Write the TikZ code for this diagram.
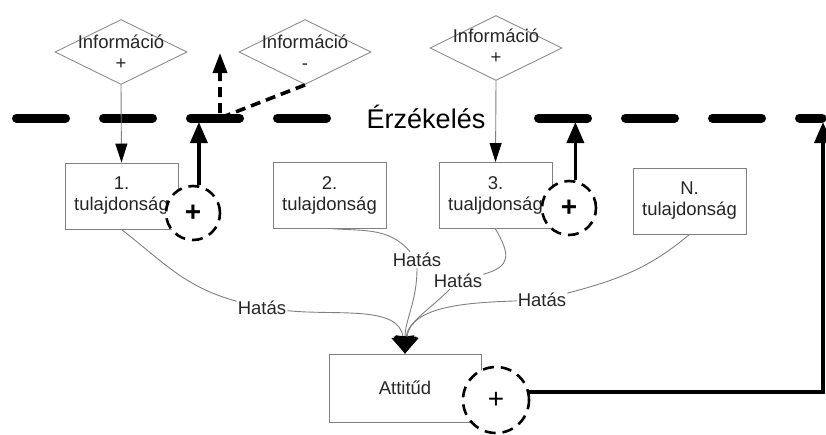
\documentclass[tikz,border=0pt]{standalone}
\usepackage{fontspec}
\setmainfont{Liberation Sans}
\usetikzlibrary{shapes.geometric,arrows.meta}
\begin{document}
\begin{tikzpicture}[x=1pt,y=1pt,
  every node/.style={font=\fontsize{18.5}{21}\selectfont, text=black!85},
  gl/.style={draw=black!50, line width=0.9},
  dia/.style={diamond, draw=black!45, line width=0.9, minimum width=132, minimum height=65, inner sep=0},
  prop/.style={rectangle, draw=black!50, line width=0.9, minimum width=113, minimum height=66, align=center, inner sep=0},
  pc/.style={circle, draw=black, fill=white, line width=2.6, dash pattern=on 11 off 7, minimum size=54, inner sep=0, font=\fontsize{28}{28}\selectfont, text=black},
  thk/.style={line width=3.6, draw=black},
  thkarrow/.style={-{Triangle[width=17,length=21]}},
  harrow/.style={-{Triangle[width=12,length=19,black]}},
  hat/.style={gl, -{Triangle[width=23,length=17,black]}},
  lab/.style={inner sep=1},
]
\useasboundingbox (0,0) rectangle (826,-434);

% sensing line
\draw[line width=9, line cap=round, dash pattern=on 49 off 38] (16.5,-118) -- (822,-118);
\node[fill=white, minimum width=176, inner sep=2, font=\fontsize{27}{30}\selectfont, text=black] (erz) at (426,-117) {Érzékelés};

% diamonds
\node[dia] (d1) at (121,-52) {};
\node[align=center] (t1) at (121,-52) {Információ\\+};
\node[dia] (d2) at (305,-52) {};
\node[align=center] (t2) at (305,-52) {Információ\\-};
\node[dia] (d3) at (496,-48) {};
\node[align=center] (t3) at (496,-46) {Információ\\+};

% property boxes
\node[prop] (b1) at (121.5,-196) {1.\\tulajdonság};
\node[prop] (b2) at (329.5,-195) {2.\\tulajdonság};
\node[prop] (b3) at (495.5,-195.5) {3.\\tualjdonság};
\node[prop] (b4) at (689.5,-201) {N.\\tulajdonság};
\node[prop, minimum width=152, minimum height=68] (att) at (405,-388) {Attitűd};

% circles
\node[pc] (c1) at (193,-213) {\textbf{+}};
\node[pc] (c3) at (569,-208) {\textbf{+}};
\node[pc, minimum size=66] (ca) at (496,-400) {+};

% coordinates on sensing line
\coordinate (s1) at (199,-122);
\coordinate (s3) at (575,-122);
\coordinate (sa) at (823,-122);
\coordinate (pd) at (220,-118);
\coordinate (pu) at (220,-53);

% info arrows
\draw[gl, harrow] (d1.south) -- (b1.north);
\draw[gl, harrow] (d3.south) -- (b3.north);
\draw[thk, dash pattern=on 10 off 6, -{Triangle[width=14,length=20]}] (d2.south) -- (pd) -- (pu);

% feedback arrows
\draw[thk, thkarrow] (c1.78) -- (c1.78 |- s1);
\draw[thk, thkarrow] (c3.77) -- (c3.77 |- s3);
\draw[thk, thkarrow] (ca.14) -| (sa);

% Hatás labels
\node[lab] (h1) at (262,-308) {Hatás};
\node[lab] (h2) at (417,-260) {Hatás};
\node[lab] (h3) at (458,-281) {Hatás};
\node[lab] (h4) at (542,-300) {Hatás};

% influence curves
\draw[gl] (b1.south) to[out=-38,in=165] (h1);
\draw[hat] (h1) to[out=-6,in=97] (att.north);
\draw[gl] (b2.south) to[out=-5,in=130] (h2);
\draw[hat] (h2) to[out=-90,in=90] (att.north);
\draw[gl] (b3.south) to[out=-60,in=15, looseness=1.6] (h3);
\draw[hat] (h3) to[out=-135,in=86] (att.north);
\draw[gl] (b4.south) to[out=-140,in=15] (h4);
\draw[hat] (h4) to[out=182,in=83] (att.north);
\end{tikzpicture}
\end{document}
